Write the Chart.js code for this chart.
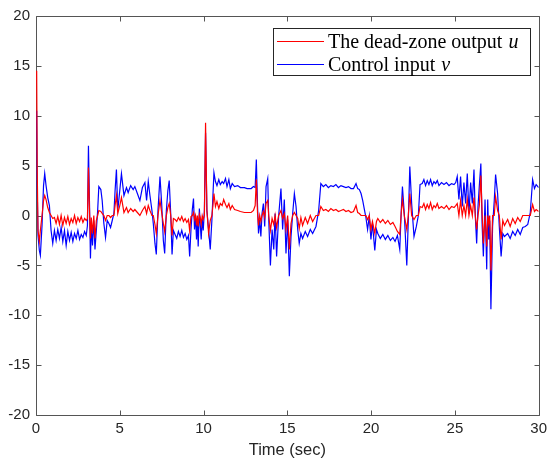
<!DOCTYPE html>
<html>
<head>
<meta charset="utf-8">
<script src="https://cdn.jsdelivr.net/npm/chart.js@4.4.1/dist/chart.umd.min.js"></script>
<style>
  html, body { margin: 0; padding: 0; background: #fff; }
  canvas { display: block; }
</style>
</head>
<body>
<canvas id="chart" width="552" height="462"></canvas>
<script>
// time axis (sec), shared by both series
const timeSec = [
  0.04, 0.07, 0.12, 0.2, 0.26, 0.36, 0.45, 0.52, 0.6, 0.7, 0.8, 0.9, 1.0,
  1.1, 1.2, 1.3, 1.4, 1.5, 1.6, 1.7, 1.8, 1.9, 2.0, 2.1, 2.2, 2.3, 2.4, 2.5, 2.6, 2.7, 2.8, 2.9, 3.0,
  3.07, 3.13, 3.2, 3.25, 3.3, 3.37, 3.45, 3.52, 3.6, 3.68, 3.75, 3.87, 3.95, 4.05, 4.15, 4.25, 4.35, 4.45, 4.55, 4.65, 4.72, 4.8,
  4.88, 5.0, 5.1, 5.25, 5.4, 5.5, 5.65, 5.8, 5.9, 6.05, 6.2, 6.35, 6.5, 6.6, 6.7, 6.8, 6.92,
  7.0, 7.1, 7.18, 7.28, 7.4, 7.5, 7.6, 7.68, 7.78, 7.87, 7.95, 8.04, 8.12, 8.2, 8.3,
  8.4, 8.5, 8.6, 8.7, 8.8, 8.9, 9.0, 9.1, 9.17, 9.25, 9.33, 9.4, 9.46, 9.52, 9.58, 9.63, 9.68, 9.75, 9.8, 9.86, 9.92, 9.98, 10.05, 10.12,
  10.2, 10.3, 10.4, 10.5, 10.56, 10.62, 10.71, 10.8, 10.91, 11.0, 11.11, 11.2, 11.31, 11.4, 11.51, 11.6, 11.71, 11.85, 12.04, 12.2, 12.44, 12.6, 12.84, 12.98,
  13.08, 13.15, 13.22, 13.28, 13.35, 13.42, 13.49, 13.57, 13.65, 13.73, 13.83, 13.89, 13.99, 14.09, 14.19, 14.27, 14.36, 14.48, 14.62, 14.72,
  14.82, 14.92, 15.02, 15.12, 15.22, 15.32, 15.42, 15.52, 15.62, 15.71, 15.81, 15.91, 16.07, 16.21, 16.37, 16.51, 16.71, 16.87, 17.0,
  17.15, 17.3, 17.45, 17.6, 17.75, 17.9, 18.05, 18.2, 18.35, 18.5, 18.65, 18.8, 18.95, 19.1, 19.2, 19.3,
  19.4, 19.5, 19.6, 19.69, 19.79, 19.89, 19.99, 20.08, 20.22, 20.32, 20.4, 20.55, 20.7, 20.85, 21.0, 21.15, 21.3, 21.43, 21.57, 21.71,
  21.8, 21.87, 21.98, 22.13, 22.22, 22.31, 22.42, 22.56, 22.7, 22.82, 22.92,
  23.05, 23.15, 23.25, 23.35, 23.45, 23.55, 23.65, 23.75, 23.85, 23.95, 24.05, 24.2, 24.35, 24.5, 24.65, 24.8, 24.95, 25.05,
  25.14, 25.24, 25.34, 25.44, 25.54, 25.64, 25.74, 25.84, 25.94, 26.04, 26.14, 26.22, 26.3, 26.38, 26.46, 26.55, 26.63, 26.7, 26.8, 26.9,
  26.96, 27.02, 27.08, 27.15, 27.25, 27.35, 27.43, 27.55, 27.65, 27.76, 27.86, 27.96, 28.15, 28.3, 28.45, 28.6, 28.75, 28.9, 29.05, 29.2,
  29.35, 29.5, 29.64, 29.75, 29.85, 30.0
];

// dead-zone output u (red)
const deadZoneOut = [
  14.5, 5, -1.5, -2.6, -1.5, 0, 1.5, 2.0, 1.6, 0.8, 0.3, 0, -0.3,
  -0.2, -0.8, -0.1, -0.9, 0, -1.0, -0.2, -0.8, -0.1, -0.9, -0.3, -0.7, 0, -0.8, -0.2, -0.6, -0.1, -0.7, -0.3, -0.5,
  -0.3, 4.8, 0, -2.3, -0.2, -1.8, 0, -2.3, -0.5, 0, 0.5, 0.4, 0.2, 0, -0.5, 0, 0, -0.2, 0, 0, 1.0, 2.0,
  0.2, 1.0, 1.8, 0.3, 0.8, 0.3, 0.7, 0.4, 0.6, 0.3, 0, 0.5, 0.9, 0.2, 1.0, 0.5, 0,
  0, -0.9, -1.8, 0, 1.5, 0.3, -0.8, -1.6, 0, 0.8, 1.2, 0, -2.0, -0.3, -0.4,
  -0.6, -0.2, -0.5, -0.1, -0.6, -0.3, -0.7, -0.4, -1.5, -0.1, 0, 0.3, -0.4, 0, -1.0, 0, -1.1, 0.1, -0.2, -0.9, 0, -0.4, 0, 9.3,
  0.5, -1.8, -0.5, 0, 1.0, 2.2, 0.9, 1.4, 0.7, 1.2, 1.0, 1.6, 1.1, 0.8, 1.2, 0.6, 1.0, 0.6, 0.5, 0.4, 0.3, 0.3, 0.3, 0.5,
  1.0, 3.6, 0.3, -1.0, 0, -0.6, 0, 0.4, -0.2, 1.2, 1.5, 0, -1.5, -0.3, -0.9, 0, -1.2, 0, 0.5, -0.3,
  0.2, -1.4, 0, -3.4, -0.8, 0, 0.3, 0, -0.3, -1.3, -0.2, -1.0, -0.2, -0.8, 0, -0.6, 0, 0, 0.9,
  0.5, 0.6, 0.4, 0.7, 0.5, 0.6, 0.4, 0.5, 0.6, 0.4, 0.5, 0.3, 0.4, 1.0, 0.3, 0.2,
  0, 0, 0, 0, -0.4, 0, -1.4, -0.6, -1.8, -0.6, -0.3, -0.7, -0.4, -0.8, -0.5, -0.9, -0.7, -1.1, -1.6, -1.9,
  0.3, 1.6, 0, -1.4, 0, 2.2, 0, -0.4, 0, 0, 0.9,
  0.8, 1.2, 0.6, 1.1, 0.7, 1.3, 0.6, 1.0, 0.8, 1.2, 0.7, 0.9, 0.7, 1.0, 0.6, 0.9, 0.8, 1.0,
  1.2, 0, 1.5, 0, 1.0, 0, 1.6, 0, 1.0, 0, 1.8, 0, -1.4, 0, 1.0, 4.0, 0, -2.8, 0, -3.1,
  0, -0.8, 0, -5.5, 0, 0, 1.9, 0.5, 0, -2.4, -0.5, -1.0, -0.4, -1.1, -0.3, -0.8, -0.2, -0.6, 0, 0,
  0, 0, 1.1, 0.4, 0.6, 0.4
];

// control input v (blue)
const controlIn = [
  10.5, 3, -2, -3.5, -4.0, -1, 3.0, 4.2, 3.0, 1.8, 1.0, -1.5, -2.8,
  -1.5, -2.5, -1.4, -2.3, -1.2, -2.6, -1.5, -3.0, -1.6, -2.5, -1.7, -2.6, -1.8, -2.3, -1.5, -2.4, -1.9, -2.2, -1.6, -2.0,
  -1.0, 7.0, 0.5, -4.3, -1.0, -3.0, -0.5, -3.4, -1.5, 0.5, 2.9, 2.6, 1.5, -0.8, -2.2, -0.5, -0.8, -1.2, -0.5, 0.2, 2.5, 4.6,
  0.5, 2.5, 4.2, 2.0, 2.8, 2.3, 3.0, 2.6, 2.9, 2.2, 1.5, 2.8, 3.3, 1.5, 3.4, 2.0, 0.5,
  -0.8, -2.8, -3.9, 0.5, 3.9, 1.2, -2.5, -3.8, 0.5, 2.5, 3.5, 0.2, -3.9, -1.5, -1.9,
  -2.3, -1.6, -2.1, -1.5, -2.2, -1.8, -2.4, -2.0, -4.1, -1.4, 0.6, 1.7, -1.4, 0, -2.4, -0.3, -3.1, 0.7, -0.8, -2.4, -0.3, -1.5, 0.5, 8.3,
  0.5, -1.4, -3.4, -0.4, 2.0, 4.3, 3.4, 3.0, 3.6, 3.1, 3.4, 3.2, 3.7, 2.9, 3.6, 2.7, 3.2, 2.9, 3.0, 2.8, 2.8, 2.7, 2.7, 2.9,
  2.8, 5.6, 1.0, -1.8, -0.4, -2.1, 0.2, 1.2, -1.1, 2.9, 3.7, -0.4, -5.0, -1.4, -3.4, 0.2, -4.1, -0.1, 2.7, -1.4,
  1.6, -3.8, -0.4, -6.1, -2.1, 0.2, 2.2, 0.9, -1.4, -2.8, -1.8, -2.3, -1.6, -2.1, -1.4, -1.8, -1.1, 0.5, 3.2,
  2.9, 3.1, 2.8, 3.0, 2.9, 3.1, 2.8, 3.0, 2.9, 2.8, 2.9, 2.7, 2.7, 3.2, 2.7, 2.6,
  2.2, 1.5, 0.6, -0.2, -1.4, -0.1, -2.4, -0.8, -3.5, -1.4, -1.8, -2.3, -1.9, -2.4, -2.0, -2.5, -2.2, -2.6, -2.0, -3.4,
  0.5, 2.9, 0.2, -5.0, -0.5, 4.9, 1.2, -2.1, -1.1, 0, 3.1,
  3.2, 3.6, 3.0, 3.5, 3.1, 3.6, 3.0, 3.4, 3.2, 3.5, 3.0, 3.3, 3.1, 3.3, 3.0, 3.2, 3.1, 3.3,
  3.9, 1.6, 3.9, 0.9, 3.3, 1.2, 4.2, 0.2, 3.3, 1.2, 4.6, -0.1, -2.8, 0.9, 3.0, 5.2, -1.1, -4.1, 1.6, -5.4,
  1.6, -2.4, -0.5, -9.4, -1.1, 1.5, 4.1, 2.2, -1.1, -4.1, -1.8, -2.1, -1.8, -2.3, -1.6, -2.0, -1.4, -1.9, -1.2, -1.1,
  -0.9, 0.3, 3.6, 2.7, 3.1, 2.8
];

const xTicks = [0, 5, 10, 15, 20, 25, 30];
const yTicks = [-20, -15, -10, -5, 0, 5, 10, 15, 20];
const seriesNames = ['The dead-zone output ', 'Control input '];
const seriesSymbols = ['u', 'v'];

const AXIS_COLOR = '#262626';
const FRAME_COLOR = '#555555';
const SANS = '"Liberation Sans", Arial, Helvetica, sans-serif';
const SERIF = '"Liberation Serif", "Times New Roman", serif';

function toPoints(ys) {
  return timeSec.map((t, i) => ({ x: t, y: ys[i] }));
}

// MATLAB-like box with inward ticks on all four sides (drawn under the data)
const boxAxes = {
  id: 'boxAxes',
  beforeDatasetsDraw(chart) {
    const { ctx, chartArea: a, scales } = chart;
    const L = Math.round(a.left) + 0.5, R = Math.round(a.right) + 0.5;
    const T = Math.round(a.top) + 0.5, B = Math.round(a.bottom) + 0.5;
    ctx.save();
    ctx.strokeStyle = FRAME_COLOR;
    ctx.lineWidth = 1;
    ctx.beginPath();
    ctx.rect(L, T, R - L, B - T);
    xTicks.forEach(v => {
      const x = Math.round(scales.x.getPixelForValue(v)) + 0.5;
      ctx.moveTo(x, B); ctx.lineTo(x, B - 5);
      ctx.moveTo(x, T); ctx.lineTo(x, T + 5);
    });
    yTicks.forEach(v => {
      const y = Math.round(scales.y.getPixelForValue(v)) + 0.5;
      ctx.moveTo(L, y); ctx.lineTo(L + 5, y);
      ctx.moveTo(R, y); ctx.lineTo(R - 5, y);
    });
    ctx.stroke();
    ctx.restore();
  }
};

// boxed legend with italic math symbols
const mathLegend = {
  id: 'mathLegend',
  afterDraw(chart) {
    const ctx = chart.ctx;
    const box = { x: 273.5, y: 28.5, w: 257, h: 47 };
    ctx.save();
    ctx.fillStyle = '#fff';
    ctx.fillRect(box.x, box.y, box.w, box.h);
    ctx.strokeStyle = AXIS_COLOR;
    ctx.lineWidth = 1;
    ctx.strokeRect(box.x, box.y, box.w, box.h);
    const rowsY = [41.5, 64.5];
    chart.data.datasets.forEach((ds, i) => {
      const y = rowsY[i];
      ctx.strokeStyle = ds.borderColor;
      ctx.lineWidth = 1.2;
      ctx.beginPath();
      ctx.moveTo(277, y); ctx.lineTo(324, y);
      ctx.stroke();
      ctx.fillStyle = '#000';
      ctx.textBaseline = 'alphabetic';
      ctx.textAlign = 'left';
      ctx.font = '20px ' + SERIF;
      ctx.fillText(seriesNames[i], 328, y + 6.5);
      const w = ctx.measureText(seriesNames[i]).width;
      ctx.font = 'italic 20px ' + SERIF;
      ctx.fillText(seriesSymbols[i], 328 + w + 1, y + 6.5);
    });
    ctx.restore();
  }
};

new Chart(document.getElementById('chart').getContext('2d'), {
  type: 'line',
  data: {
    datasets: [
      { label: seriesNames[0] + seriesSymbols[0], data: toPoints(deadZoneOut), borderColor: '#ff0000',
        borderWidth: 1.2, pointRadius: 0, tension: 0, fill: false },
      { label: seriesNames[1] + seriesSymbols[1], data: toPoints(controlIn), borderColor: '#0000ff',
        borderWidth: 1.2, pointRadius: 0, tension: 0, fill: false }
    ]
  },
  options: {
    responsive: false,
    animation: false,
    devicePixelRatio: 1,
    layout: { padding: { top: 16, right: 12, left: 0, bottom: 0 } },
    plugins: { legend: { display: false }, tooltip: { enabled: false } },
    scales: {
      x: {
        type: 'linear', min: 0, max: 30,
        afterBuildTicks: s => { s.ticks = xTicks.map(v => ({ value: v })); },
        afterFit: s => { s.height = 47; },
        grid: { display: false, drawTicks: false },
        border: { display: false },
        ticks: { padding: 5, color: AXIS_COLOR, font: { family: SANS, size: 15 }, maxRotation: 0 },
        title: { display: true, text: 'Time (sec)', color: AXIS_COLOR,
                 font: { family: SANS, size: 16.5 }, padding: { top: 0, bottom: 2 } }
      },
      y: {
        type: 'linear', min: -20, max: 20,
        afterBuildTicks: s => { s.ticks = yTicks.map(v => ({ value: v })); },
        afterFit: s => { s.width = 36; },
        grid: { display: false, drawTicks: false },
        border: { display: false },
        ticks: { padding: 6, color: AXIS_COLOR, font: { family: SANS, size: 15 } }
      }
    }
  },
  plugins: [boxAxes, mathLegend]
});
</script>
</body>
</html>
